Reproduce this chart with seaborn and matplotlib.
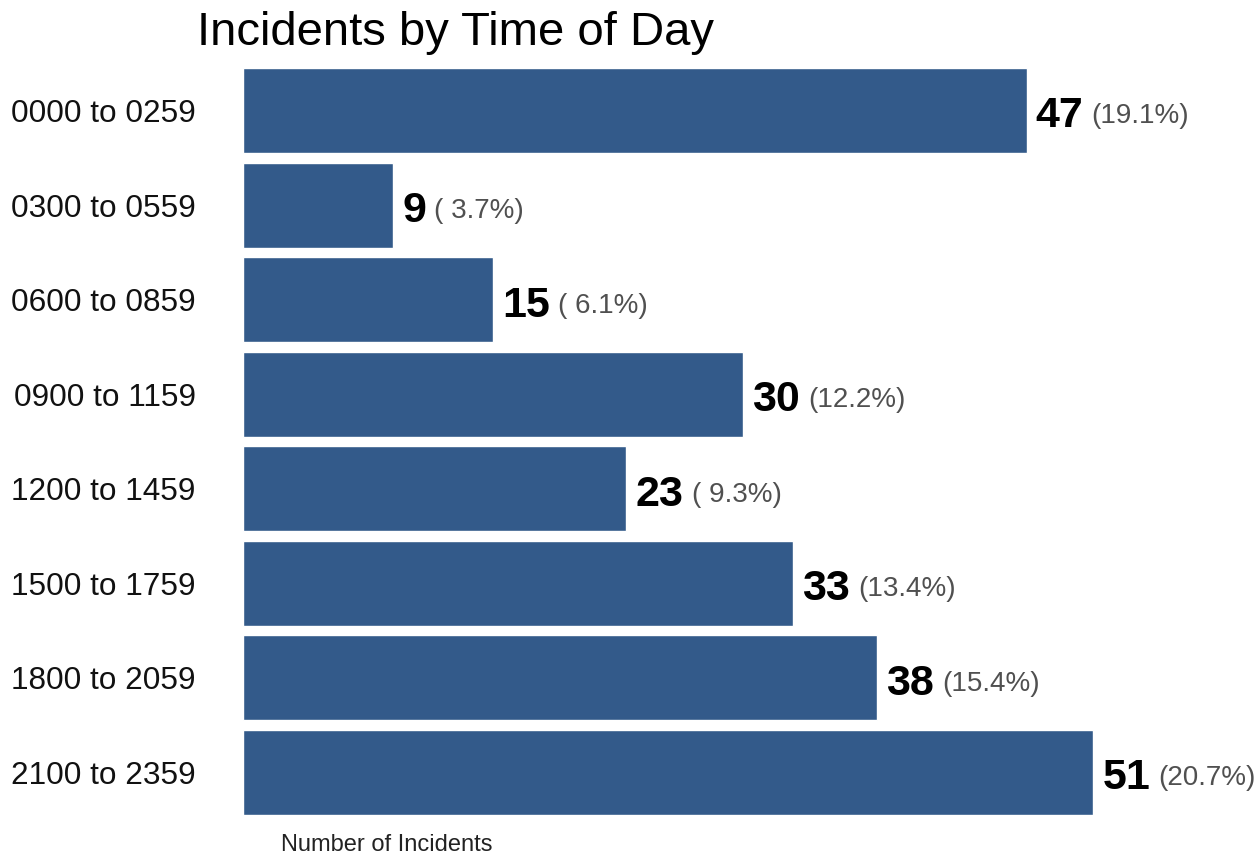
import matplotlib
matplotlib.use("Agg")
import matplotlib.pyplot as plt
import seaborn as sns
import pandas as pd

# Incident counts by three-hour block
periods = ["0000 to 0259", "0300 to 0559", "0600 to 0859", "0900 to 1159",
           "1200 to 1459", "1500 to 1759", "1800 to 2059", "2100 to 2359"]
counts = [47, 9, 15, 30, 23, 33, 38, 51]

title = "Incidents by Time of Day"
x_label = "Number of Incidents"

bar_color = "#335A8A"
pct_color = "#505050"

sns.set_theme(style="white")
plt.rcParams["font.family"] = ["Liberation Sans", "DejaVu Sans"]

df = pd.DataFrame({"period": periods, "count": counts})
total = sum(counts)
df["pct"] = [f"({100 * c / total:4.1f}%)" for c in counts]

W, H = 1260, 855
fig = plt.figure(figsize=(W / 100, H / 100), dpi=100)
ax = fig.add_axes([243 / W, 1 - 815 / H, (1250 - 243) / W, (815 - 68) / H])

sns.barplot(data=df, x="count", y="period", orient="h", color=bar_color,
            saturation=1, width=0.9, ax=ax)

ax.set_xlim(0, 60.4)
ax.set_ylim(7.45, -0.45)
for s in ax.spines.values():
    s.set_visible(False)
ax.set_xticks([])
ax.set_xlabel("")
ax.set_ylabel("")
ax.tick_params(axis="y", length=0, pad=34, labelsize=22.7, labelcolor="#111111")
for lab in ax.get_yticklabels():
    lab.set_verticalalignment("center_baseline")

for i, (c, p) in enumerate(zip(df["count"], df["pct"])):
    num = ax.annotate(str(c), xy=(c, i), xytext=(6.5, -1), textcoords="offset points",
                      ha="left", va="center_baseline", fontsize=31, fontweight="bold",
                      color="black")
    ax.annotate(p, xy=(1, 0.5), xycoords=num, xytext=(6, 0), textcoords="offset points",
                ha="left", va="center", fontsize=20, color=pct_color)

fig.text(197 / W, 1 - 11 / H, title, ha="left", va="top", fontsize=34, color="black")
fig.text(281 / W, 1 - 845 / H, x_label, ha="left", va="center", fontsize=17, color="#222222")

fig.savefig("out.png", dpi=100, facecolor="white")
